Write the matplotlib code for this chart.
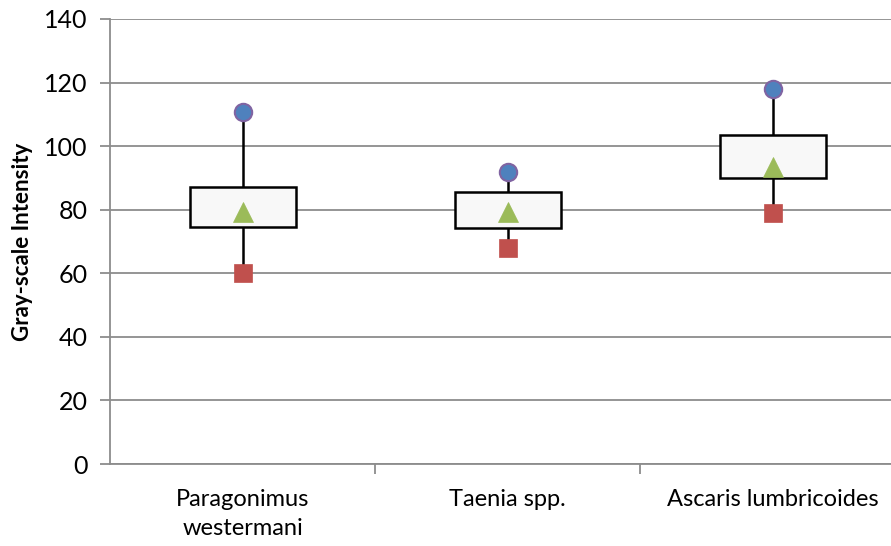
import numpy as np
import matplotlib
matplotlib.use("Agg")
from matplotlib import pyplot as plt

# per-species gray-scale statistics
SPECIES = ["Paragonimus\nwestermani", "Taenia spp.", "Ascaris lumbricoides"]
HIGH = [110.8, 92.0, 118.0]
Q3 = [87.2, 85.6, 103.5]
Q1 = [74.5, 74.3, 90.0]
LOW = [60.2, 68.0, 78.9]
MEAN = [79.4, 79.4, 93.5]

plt.rcParams['font.family'] = ['Lato', 'DejaVu Sans']

fig = plt.figure(figsize=(8.91, 5.46), dpi=100)
ax = fig.add_axes([110/891, 82/546, 795/891, 445/546])

x = np.arange(len(SPECIES))
BOX_W = 0.40

for i in x:
    # whiskers: box top to max, box bottom to min
    ax.plot([i, i], [Q3[i], HIGH[i]], color="black", lw=1.8, zorder=3)
    ax.plot([i, i], [LOW[i], Q1[i]], color="black", lw=1.8, zorder=3)
    ax.add_patch(plt.Rectangle((i - BOX_W/2, Q1[i]), BOX_W, Q3[i] - Q1[i],
                               facecolor="#F8F8F8", edgecolor="black", lw=1.8, zorder=4))

ax.plot(x, HIGH, "o", ms=12.5, color="#4F81BD", mec="#8064A2", mew=1.5, zorder=5)
ax.plot(x, LOW, "s", ms=13.5, color="#C0504D", mec="#C0504D", mew=0.5, zorder=5)
ax.plot(x, MEAN, "^", ms=14.5, color="#9BBB59", mec="#9BBB59", mew=0.5, zorder=5)

ax.set_xlim(-0.5, 2.5)
ax.set_ylim(0, 140)
ax.set_yticks(np.arange(0, 141, 20))
ax.yaxis.grid(True, color="#8C8C8C", lw=1.3)
ax.set_axisbelow(True)

ax.set_xticks(x)
ax.set_xticklabels(SPECIES, fontsize=17, linespacing=1.45)
ax.set_xticks([0.5, 1.5], minor=True)
ax.tick_params(axis="x", which="major", length=0, pad=18)
ax.tick_params(axis="x", which="minor", length=7, width=1.3, color="#8C8C8C", direction="out")
ax.tick_params(axis="y", length=7, width=1.3, color="#8C8C8C", labelsize=18, pad=9)

for s in ["top", "right"]:
    ax.spines[s].set_visible(False)
for s in ["left", "bottom"]:
    ax.spines[s].set_color("#8C8C8C")
    ax.spines[s].set_linewidth(1.3)

ax.set_ylabel("Gray-scale Intensity", fontsize=16, fontweight="bold", labelpad=8)

plt.savefig("out.png", dpi=100)
